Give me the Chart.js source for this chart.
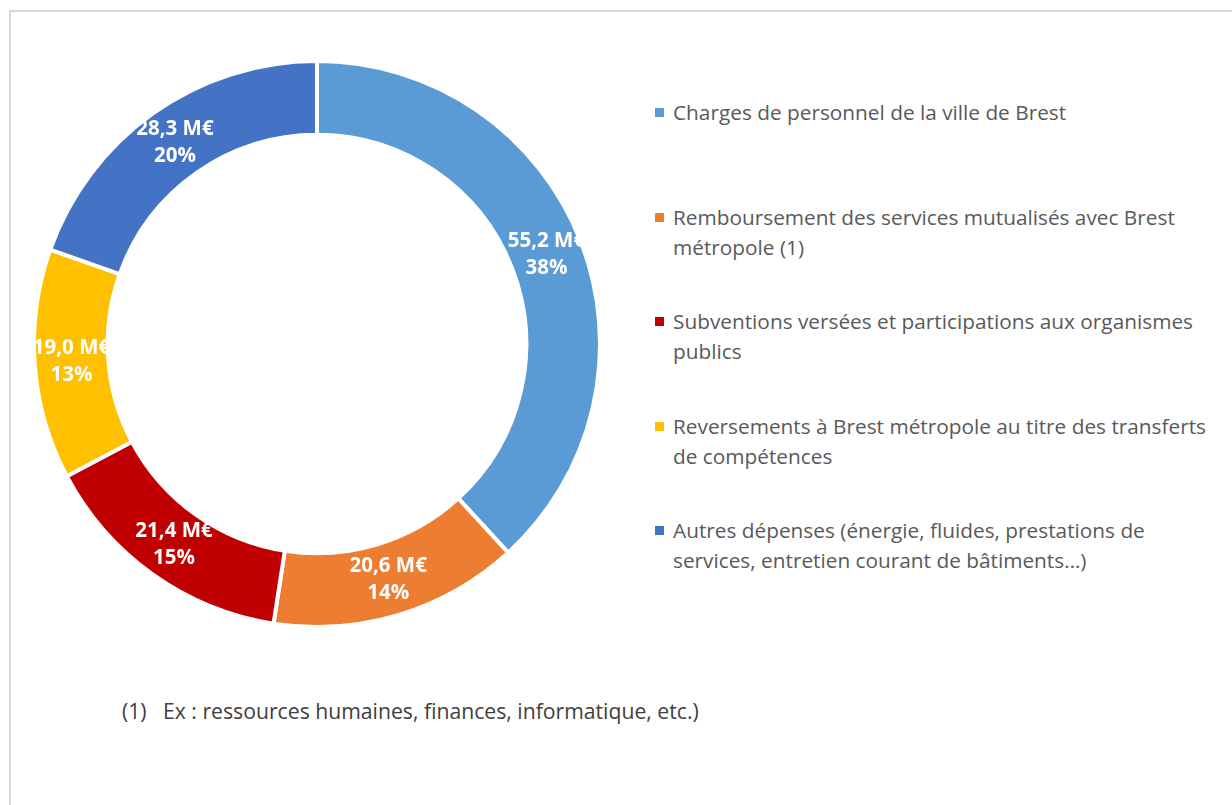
<!DOCTYPE html>
<html lang="fr">
<head>
<meta charset="utf-8">
<script src="https://cdn.jsdelivr.net/npm/chart.js@4/dist/chart.umd.min.js"></script>
<style>
    body { margin: 0; background: #fff; width: 1232px; height: 805px; overflow: hidden; position: relative; font-family: 'Open Sans', sans-serif; }
    #frame { position: absolute; left: 9px; top: 10px; width: 1300px; height: 900px; border: 2px solid #d9d9d9; }
    #chartBox { position: absolute; left: 27px; top: 54px; width: 580px; height: 580px; }
    #legend { position: absolute; left: 655px; top: 97px; margin: 0; padding: 0; list-style: none; }
    #legend li { position: relative; height: 104.5px; padding-left: 18px; font-size: 20.8px; line-height: 30px; color: #595959; white-space: nowrap; }
    #legend li span { position: absolute; left: 0; top: 11px; width: 9px; height: 9px; }
    #note { position: absolute; left: 122px; top: 696px; font-size: 21.2px; line-height: 30px; color: #404040; white-space: nowrap; }
    #note b { font-weight: normal; display: inline-block; width: 41px; }
</style>
</head>
<body>
<div id="frame"></div>
<div id="chartBox"><canvas id="donut"></canvas></div>
<ul id="legend"></ul>
<div id="note"><b>(1)</b>Ex : ressources humaines, finances, informatique, etc.)</div>
<script>
const categories = [
    ['Charges de personnel de la ville de Brest'],
    ['Remboursement des services mutualisés avec Brest', 'métropole (1)'],
    ['Subventions versées et participations aux organismes', 'publics'],
    ['Reversements à Brest métropole au titre des transferts', 'de compétences'],
    ['Autres dépenses (énergie, fluides, prestations de', 'services, entretien courant de bâtiments…)']
];
const montants = [55.2, 20.6, 21.4, 19.0, 28.3]; // en M€
const couleurs = ['#5B9BD5', '#ED7D31', '#C00000', '#FFC000', '#4472C4'];

const total = montants.reduce((s, v) => s + v, 0);

// etiquettes dans l'anneau : montant + pourcentage
const labelsPlugin = {
    id: 'ringLabels',
    afterDatasetsDraw(chart) {
        const ctx = chart.ctx;
        const meta = chart.getDatasetMeta(0);
        ctx.save();
        ctx.fillStyle = '#ffffff';
        ctx.font = "bold 20.5px 'Open Sans', sans-serif";
        ctx.textAlign = 'center';
        ctx.textBaseline = 'middle';
        meta.data.forEach((arc, i) => {
            const pos = arc.tooltipPosition();
            const v = montants[i];
            const pct = Math.round(v / total * 100) + '%';
            ctx.fillText(v.toFixed(1).replace('.', ',') + ' M€', pos.x, pos.y - 13.5);
            ctx.fillText(pct, pos.x, pos.y + 13.5);
        });
        ctx.restore();
    }
};

const chart = new Chart(document.getElementById('donut'), {
    type: 'doughnut',
    data: {
        labels: categories,
        datasets: [{
            data: montants,
            backgroundColor: couleurs,
            borderColor: '#ffffff',
            borderWidth: 4
        }]
    },
    options: {
        responsive: true,
        maintainAspectRatio: false,
        animation: false,
        radius: 283,
        cutout: 213,
        plugins: {
            legend: { display: false },
            tooltip: { enabled: false }
        }
    },
    plugins: [labelsPlugin]
});

// legende HTML
const legend = document.getElementById('legend');
categories.forEach((lines, i) => {
    const li = document.createElement('li');
    const sq = document.createElement('span');
    sq.style.background = couleurs[i];
    li.appendChild(sq);
    lines.forEach((line, j) => {
        if (j > 0) li.appendChild(document.createElement('br'));
        li.appendChild(document.createTextNode(line));
    });
    legend.appendChild(li);
});
</script>
</body>
</html>
